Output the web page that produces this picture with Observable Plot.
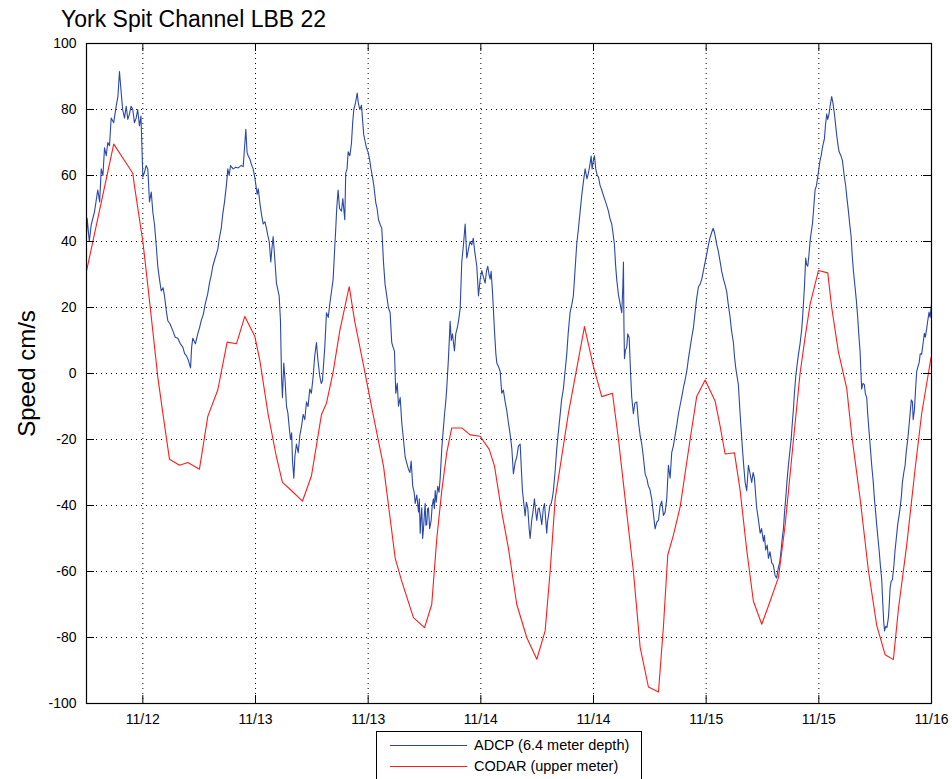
<!DOCTYPE html>
<html><head><meta charset="utf-8">
<script src="https://cdn.jsdelivr.net/npm/d3@7"></script>
<script src="https://cdn.jsdelivr.net/npm/@observablehq/plot@0.6"></script>
<style>
html,body{margin:0;padding:0;background:#fff;overflow:hidden;}
#wrap{position:relative;width:952px;height:779px;font-family:"Liberation Sans",Arial,Helvetica,sans-serif;color:#000;}
#title{position:relative;height:35px;}
#title span{position:absolute;left:61px;top:8px;font-size:23px;line-height:1;white-space:nowrap;}
#chart svg{display:block;}
#legend{position:absolute;left:376px;top:731px;width:264px;height:60px;border:1px solid #000;background:#fff;}
.lg-line{position:absolute;left:13px;width:77px;height:0;}
.lg-text{position:absolute;left:97px;font-size:14.5px;line-height:16px;white-space:nowrap;}
</style>
</head><body>
<div id="wrap">
  <div id="title"><span></span></div>
  <div id="chart"></div>
  <div id="legend"></div>
</div>
<script>
// ---- data (hours since 11/12 06:00, speed in cm/s) ----
const chartTitle = "York Spit Channel LBB 22";
const yLabel = "Speed cm/s";
const startTimeUTC = Date.UTC(2009, 10, 12, 6);
const spanHours = 90;
const seriesNames = ["ADCP (6.4 meter depth)", "CODAR (upper meter)"];
const seriesColors = ["#2a48a8", "#ff1c1c"];
const yTicks = [-100, -80, -60, -40, -20, 0, 20, 40, 60, 80, 100];
const xTickHours = [6, 18, 30, 42, 54, 66, 78, 90];

const adcpReadings = [[0.0,42],[0.07,47],[0.3,40],[0.5,45],[0.85,49],[1.2,55.6],[1.4,52],[1.57,62],[1.75,60],[1.92,68.4],[2.1,66],[2.27,70],[2.45,69],[2.63,77.4],[2.9,76],[3.16,81],[3.35,84],[3.51,91.5],[3.7,85],[3.85,80],[4.05,77.4],[4.23,81],[4.4,77],[4.58,78.7],[4.75,81],[4.93,80],[5.1,76],[5.29,77.4],[5.45,80],[5.64,75],[5.8,78],[5.89,70],[6.0,59.5],[6.18,61],[6.35,63],[6.53,62],[6.71,52],[6.9,55],[7.06,49],[7.25,45],[7.42,39],[7.59,32.5],[7.8,28],[7.96,25],[8.15,26],[8.31,23.5],[8.5,19],[8.66,16],[8.9,15],[9.19,13],[9.45,11],[9.72,10.7],[10.0,9],[10.26,8],[10.45,6],[10.62,5.5],[10.85,4],[11.08,1.7],[11.2,8],[11.32,10.7],[11.6,9],[11.85,12],[12.05,14],[12.22,16],[12.45,18],[12.64,21],[12.9,24],[13.10,27.4],[13.3,30],[13.45,32.5],[13.7,35],[13.98,37.6],[14.15,41],[14.35,44],[14.5,48],[14.70,52],[14.9,57],[15.05,62],[15.2,60],[15.34,63],[15.62,62],[15.9,62.5],[16.16,62.3],[16.45,63],[16.69,62.7],[16.97,74],[17.1,67],[17.22,66],[17.4,65],[17.57,63.3],[17.75,62],[17.92,59.5],[18.18,54.3],[18.3,56],[18.46,51.8],[18.65,48],[18.82,45.3],[19.0,46],[19.17,44],[19.3,42],[19.46,40],[19.63,33.8],[19.75,38],[19.88,41.5],[20.05,35],[20.23,27.4],[20.52,23.5],[20.66,16],[20.77,-0.9],[20.87,-7.3],[21.01,3.2],[21.15,-2],[21.30,-9.9],[21.45,-12],[21.59,-16.3],[21.73,-20],[21.85,-18],[21.94,-26.5],[22.08,-31.7],[22.2,-25],[22.36,-21.4],[22.55,-24],[22.72,-18.8],[22.9,-16],[23.08,-12.4],[23.25,-14],[23.43,-8.6],[23.6,-10],[23.78,-4.7],[23.95,-6],[24.14,-0.9],[24.3,5],[24.49,9.4],[24.65,4],[24.85,-0.9],[25.0,-3],[25.13,-2.2],[25.38,8],[25.56,18.4],[25.75,17],[25.91,21],[26.1,25],[26.27,28.6],[26.4,36],[26.55,44],[26.65,50],[26.80,55.6],[26.95,50],[27.16,49.2],[27.3,53],[27.51,46.6],[27.61,60.7],[27.75,62],[27.87,67.2],[28.05,66],[28.22,69.7],[28.35,76],[28.47,80],[28.65,82],[28.83,85],[28.95,82],[29.11,80],[29.29,81.3],[29.4,77],[29.53,72.3],[29.7,70],[29.82,68.4],[30.0,67],[30.17,64.6],[30.3,62],[30.46,59.5],[30.6,57],[30.81,51.8],[30.95,50],[31.10,46.6],[31.3,45],[31.45,44],[31.63,33.8],[31.8,27],[31.98,23.5],[32.15,20],[32.34,18.4],[32.51,9.4],[32.65,8],[32.80,6.8],[32.94,-6],[33.1,-3],[33.23,-9.9],[33.41,-7.3],[33.58,-15],[33.76,-20],[33.94,-25.3],[34.1,-27],[34.29,-29],[34.45,-30],[34.58,-26.5],[34.75,-34.2],[34.9,-36],[35.01,-39.4],[35.18,-36.8],[35.36,-42],[35.45,-38],[35.54,-48.4],[35.62,-44],[35.71,-40.7],[35.8,-50],[35.89,-47.1],[35.98,-43],[36.07,-39.4],[36.15,-46],[36.24,-45.8],[36.33,-41],[36.42,-40.7],[36.55,-47],[36.71,-44.5],[36.82,-40],[36.95,-38],[37.05,-41],[37.14,-35.5],[37.25,-39],[37.41,-34.2],[37.55,-36],[37.67,-31.7],[37.84,-22.7],[38.0,-17],[38.13,-12.4],[38.25,-9],[38.37,-4.5],[38.55,4.5],[38.73,15.8],[38.85,10],[38.98,12],[39.1,9],[39.19,6.8],[39.33,12],[39.5,14],[39.62,15.8],[39.80,19.7],[39.97,33.8],[40.15,39],[40.33,45.3],[40.42,40],[40.50,35],[40.68,37.6],[40.85,40],[41.03,39],[41.2,41],[41.32,37.6],[41.57,32.5],[41.75,23.5],[41.93,28.6],[42.1,31.2],[42.3,29],[42.46,27.4],[42.6,31],[42.74,32.5],[42.87,30],[42.99,28.6],[43.1,31],[43.24,24.8],[43.45,13.2],[43.6,6],[43.70,3.2],[43.9,2],[44.06,0.6],[44.23,-6],[44.4,-5],[44.59,-8.6],[44.75,-11],[44.94,-15],[45.1,-18],[45.30,-22.7],[45.47,-30.4],[45.65,-27],[45.83,-25.3],[46.0,-22],[46.19,-21.4],[46.3,-28],[46.43,-35.5],[46.6,-40],[46.72,-43.2],[46.85,-39],[47.0,-40.7],[47.15,-47.1],[47.25,-50],[47.42,-44.5],[47.55,-42],[47.71,-38],[47.85,-42],[47.96,-44.5],[48.1,-41],[48.21,-40.7],[48.35,-43],[48.49,-45.8],[48.65,-41],[48.78,-39.4],[48.9,-44],[49.02,-48.4],[49.1,-45],[49.2,-43.2],[49.35,-40],[49.49,-39.4],[49.6,-38],[49.73,-35.5],[49.9,-30],[50.09,-22.7],[50.25,-18],[50.45,-12.4],[50.6,-8],[50.8,-4.5],[50.95,0],[51.15,5.8],[51.3,12],[51.51,18.6],[51.7,21],[51.86,23.7],[52.05,32],[52.21,39],[52.4,44],[52.58,49.2],[52.75,54],[52.93,58.2],[53.11,62],[53.3,59],[53.46,60.7],[53.6,63],[53.75,65.9],[53.85,62],[53.99,64.6],[54.1,66],[54.24,62],[54.4,60],[54.53,59.5],[54.7,57],[54.88,55.6],[55.05,54],[55.24,52.4],[55.4,51],[55.59,49.2],[55.75,47],[55.94,45.3],[56.1,42],[56.23,39],[56.35,33],[56.47,28.6],[56.65,24],[56.84,21],[57.01,18.4],[57.12,26],[57.19,33.8],[57.24,15],[57.30,4.5],[57.4,7],[57.54,8],[57.65,12],[57.80,10.9],[57.95,0],[58.07,-7.1],[58.25,-12.2],[58.4,-9],[58.61,-8.6],[58.8,-15],[58.97,-18.8],[59.14,-21.4],[59.3,-25],[59.50,-30.4],[59.7,-32],[59.85,-34.2],[60.0,-35],[60.2,-38],[60.4,-43],[60.56,-47.1],[60.75,-45],[60.92,-44.5],[61.1,-40],[61.27,-38.7],[61.45,-43],[61.63,-42],[61.8,-38],[61.98,-27.8],[62.16,-31.7],[62.33,-24],[62.5,-22],[62.69,-18.8],[62.85,-16],[63.05,-12.2],[63.2,-10],[63.40,-7.1],[63.6,-4],[63.76,-1.9],[63.95,1],[64.11,4.5],[64.3,8],[64.46,10.9],[64.65,14],[64.82,18.6],[65.0,23],[65.18,26.3],[65.35,27],[65.53,28.6],[65.7,31],[65.89,33.8],[66.05,36],[66.24,39],[66.4,41],[66.59,42.8],[66.75,44],[66.88,42.8],[67.0,41],[67.13,39],[67.3,37],[67.49,33.8],[67.65,31],[67.84,28.6],[68.0,27],[68.19,24.8],[68.35,21],[68.55,17.1],[68.7,13],[68.90,9.4],[69.02,5],[69.15,1.7],[69.3,-1],[69.43,-3.4],[69.62,-12.4],[69.75,-18],[69.86,-22.7],[70.0,-28],[70.15,-33],[70.32,-35.5],[70.5,-27.8],[70.65,-30],[70.85,-33],[71.0,-30],[71.14,-31.7],[71.25,-36],[71.38,-40.7],[71.55,-44],[71.75,-48.4],[71.9,-47],[72.1,-50.9],[72.2,-49],[72.34,-53.5],[72.5,-52],[72.63,-56],[72.8,-54],[72.98,-57.4],[73.15,-58],[73.34,-61.2],[73.5,-62],[73.70,-58.7],[73.85,-57],[73.98,-53.5],[74.1,-50],[74.23,-47.1],[74.35,-42],[74.47,-38],[74.6,-33],[74.76,-27.8],[74.9,-24],[75.05,-20],[75.15,-16],[75.29,-11],[75.4,-6],[75.54,-0.9],[75.7,3],[75.83,5.8],[76.0,9],[76.18,13.5],[76.27,17],[76.36,21.2],[76.48,27],[76.60,35],[76.7,33],[76.82,32.5],[76.95,36],[77.07,40.2],[77.2,43],[77.32,45.3],[77.45,50],[77.60,55.6],[77.75,57],[77.88,59.5],[78.0,62],[78.13,64.6],[78.25,66],[78.38,68.4],[78.5,70],[78.59,71],[78.7,75],[78.84,78.7],[78.95,77],[79.09,78.7],[79.2,81],[79.37,83.9],[79.5,82],[79.66,78.7],[79.8,75],[79.90,72.3],[80.05,69],[80.16,67.2],[80.35,66],[80.51,64.6],[80.7,60],[80.86,56.9],[81.0,53],[81.15,49.2],[81.3,45],[81.44,41.5],[81.55,36],[81.68,31.2],[81.86,26.1],[82.0,22],[82.14,17.1],[82.25,12],[82.39,6.8],[82.56,-4.7],[82.7,-3],[82.85,-3.4],[82.95,-6],[83.10,-7.3],[83.2,-12],[83.35,-17.6],[83.5,-23],[83.63,-27.8],[83.8,-33],[83.92,-38],[84.05,-42],[84.16,-45.8],[84.3,-50],[84.42,-53.5],[84.55,-58],[84.70,-62.5],[84.8,-69],[84.91,-75.3],[85.0,-78],[85.12,-76.6],[85.25,-77],[85.41,-74],[85.5,-70],[85.59,-65],[85.7,-63],[85.84,-62.5],[86.0,-58],[86.12,-53.5],[86.25,-50],[86.40,-45.8],[86.55,-43],[86.66,-40.7],[86.8,-37],[86.90,-33],[87.05,-30],[87.19,-27.8],[87.3,-24],[87.47,-20],[87.6,-16],[87.72,-12.2],[87.85,-8],[87.97,-8.6],[88.05,-14],[88.18,-11.1],[88.3,-5],[88.42,0.6],[88.55,2],[88.68,3.2],[88.8,6],[88.95,5.8],[89.1,9],[89.24,12.2],[89.35,11],[89.48,13.5],[89.6,16],[89.74,18.6],[89.85,17],[89.96,19.9],[90.0,21]];

const codarReadings = [[0,31],[2.9,69.5],[4.93,60.7],[5.1,57],[6.0,40],[6.36,31],[7.06,13],[7.59,-1],[8.13,-12],[8.84,-26],[9.9,-27.8],[10.79,-27],[12.03,-29],[12.92,-13],[13.98,-5],[14.98,9.5],[15.97,9],[16.86,17.3],[17.92,11.3],[18.46,4],[19.35,-12.4],[20.23,-25.3],[20.87,-33],[21.65,-35],[23.0,-38.7],[23.96,-31],[25.03,-12.4],[25.56,-9],[26.27,0.5],[26.98,13],[27.98,26.3],[28.57,15.8],[29.47,3],[30.46,-11.5],[31.63,-28],[32.88,-56],[33.58,-63],[34.82,-74],[36.0,-77],[36.77,-70],[37.31,-50],[37.84,-35.5],[38.37,-24],[38.9,-16.5],[39.97,-16.5],[40.86,-18.6],[41.93,-19],[42.89,-23],[43.45,-28],[44.23,-42],[44.94,-53],[45.83,-70],[46.89,-80],[47.96,-86.6],[48.85,-78],[49.38,-60],[49.92,-38],[51.33,-12],[53.04,14.2],[54.0,2],[54.88,-7],[56.02,-6],[56.66,-20],[57.37,-38],[58.25,-60],[58.97,-83],[59.85,-95],[60.92,-96.5],[61.45,-76.6],[61.91,-55],[62.51,-49],[63.23,-40.4],[64.29,-20],[64.99,-7],[65.89,-2],[66.95,-8.3],[67.49,-16],[68.02,-24.4],[69.01,-24],[69.62,-35.5],[70.32,-53.5],[71.03,-69],[71.92,-76],[72.81,-69],[73.7,-61.8],[74.41,-46],[75.3,-20],[76.0,0],[76.54,11],[77.07,21],[77.96,31.2],[78.95,30.5],[79.37,20],[80.09,6.5],[80.97,-4.5],[81.5,-18.6],[82.4,-38],[83.28,-59.7],[84.17,-76.4],[85.06,-85.2],[85.94,-86.7],[86.48,-71.3],[87.36,-52],[88.25,-29],[88.95,-12.2],[89.96,5]];

// ---- build ----
const toDate = h => new Date(startTimeUTC + h * 3600e3);
const adcp = adcpReadings.map(([h, v]) => ({t: toDate(h), v}));
const codar = codarReadings.map(([h, v]) => ({t: toDate(h), v}));
const xTicks = xTickHours.map(toDate);

const W = 952, H = 694, mL = 86, mR = 21, mT = 8, mB = 26;
const innerW = W - mL - mR, innerH = H - mT - mB, tickLen = 8;
const fontStack = "'Liberation Sans', Arial, Helvetica, sans-serif";

document.querySelector("#title span").textContent = chartTitle;

const chart = Plot.plot({
  width: W, height: H,
  marginLeft: mL, marginRight: mR, marginTop: mT, marginBottom: mB,
  style: {fontFamily: fontStack, fontSize: "14px", color: "#000", background: "transparent", overflow: "visible"},
  x: {type: "utc", domain: [toDate(0), toDate(spanHours)], ticks: xTicks, tickFormat: d3.utcFormat("%m/%d"), tickSize: 0, tickPadding: 11, label: null},
  y: {domain: [-100, 100], ticks: yTicks, tickFormat: d => String(d), tickSize: 0, tickPadding: 10, label: null},
  marks: [
    Plot.ruleY(yTicks.slice(1, -1), {y: d => d, stroke: "#000", strokeWidth: 1, strokeDasharray: "1,4"}),
    Plot.ruleX(xTicks.slice(0, -1), {x: d => d, stroke: "#000", strokeWidth: 1, strokeDasharray: "1,4"}),
    Plot.line(adcp, {x: "t", y: "v", stroke: seriesColors[0], strokeWidth: 1.1}),
    Plot.line(codar, {x: "t", y: "v", stroke: seriesColors[1], strokeWidth: 1.1}),
    Plot.tickY(yTicks, {y: d => d, insetRight: innerW - tickLen, stroke: "#000"}),
    Plot.tickY(yTicks, {y: d => d, insetLeft: innerW - tickLen, stroke: "#000"}),
    Plot.tickX(xTicks, {x: d => d, insetTop: innerH - tickLen, stroke: "#000"}),
    Plot.tickX(xTicks, {x: d => d, insetBottom: innerH - tickLen, stroke: "#000"}),
    Plot.frame({stroke: "#000", strokeWidth: 1.2}),
    Plot.text([yLabel], {text: d => d, frameAnchor: "left", textAnchor: "middle", lineAnchor: "middle", rotate: -90, dx: -59, fontSize: 24, fill: "#000"})
  ]
});
document.getElementById("chart").appendChild(chart);

const legend = document.getElementById("legend");
seriesNames.forEach((name, i) => {
  const y = 13 + i * 21;
  const ln = document.createElement("div");
  ln.className = "lg-line";
  ln.style.top = y + "px";
  ln.style.borderTop = "1px solid " + seriesColors[i];
  legend.appendChild(ln);
  const tx = document.createElement("div");
  tx.className = "lg-text";
  tx.style.top = (y - 8) + "px";
  tx.textContent = name;
  legend.appendChild(tx);
});
</script>
</body></html>
